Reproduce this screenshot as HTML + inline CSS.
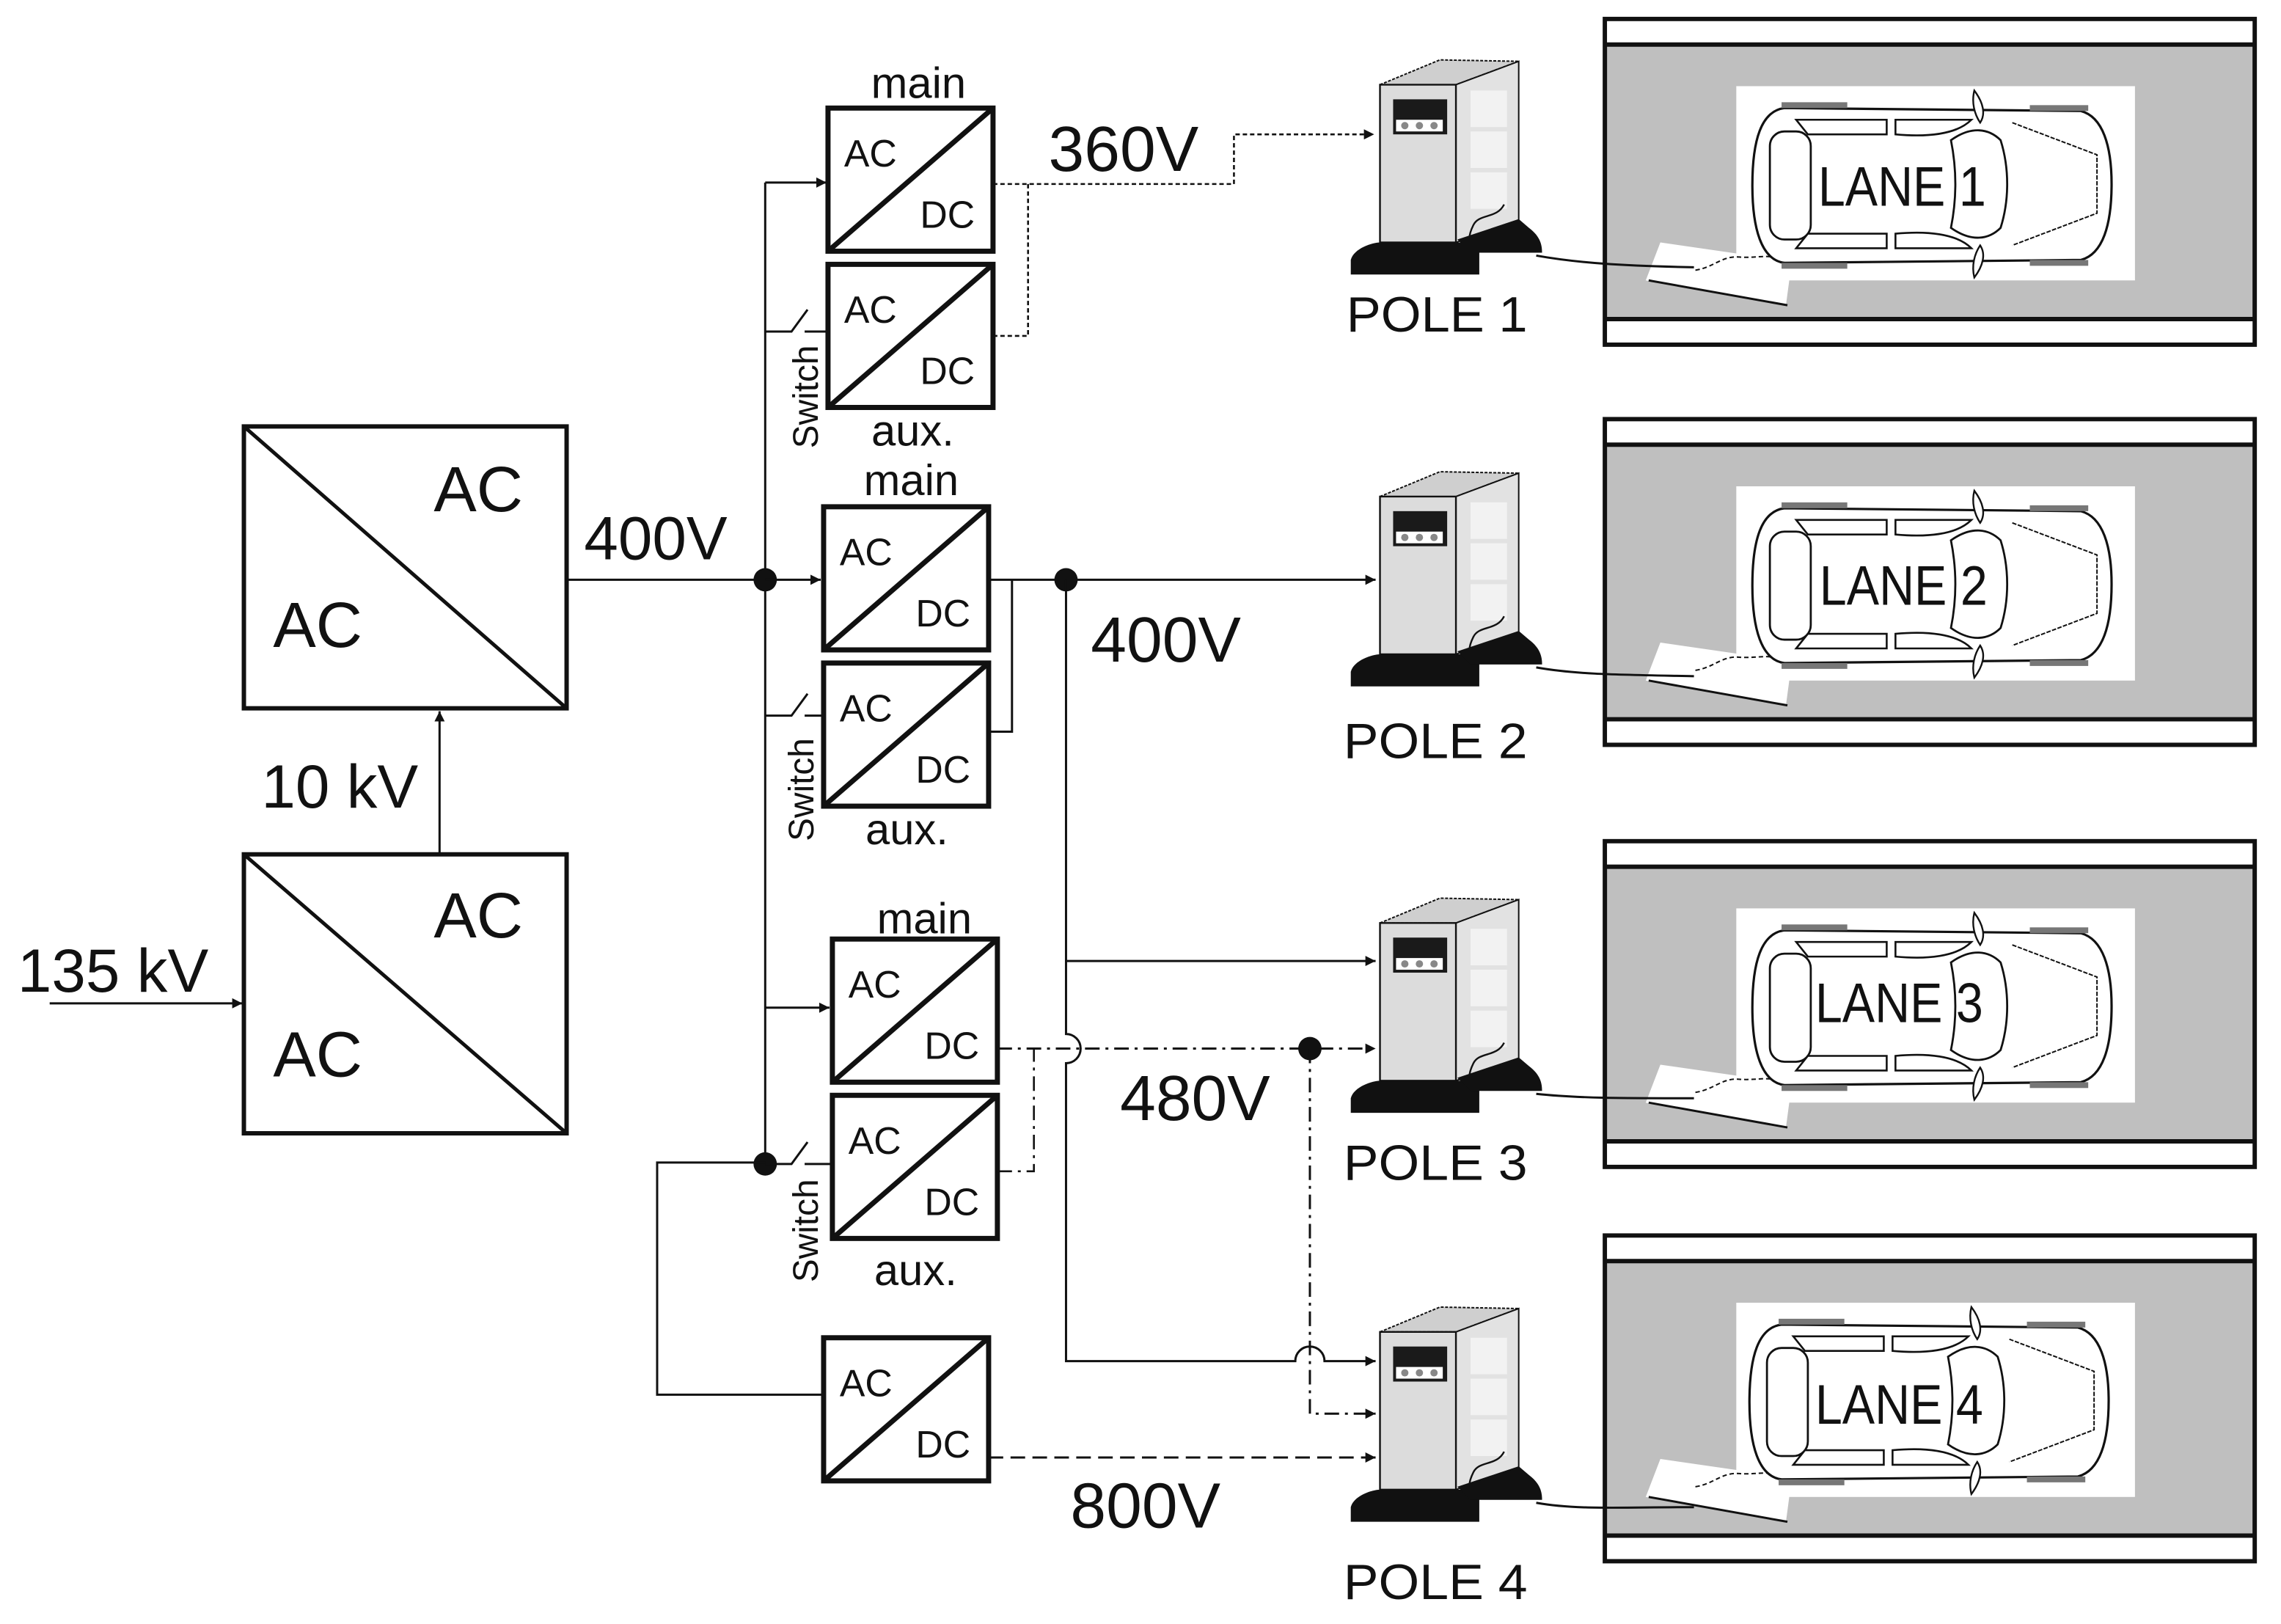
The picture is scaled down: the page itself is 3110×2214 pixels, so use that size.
<!DOCTYPE html>
<html><head><meta charset="utf-8"><style>
html,body{margin:0;padding:0;background:#fff;}
svg{display:block;}
text{font-family:"Liberation Sans",sans-serif;fill:#111;}
</style></head><body>
<svg width="3110" height="2214" viewBox="0 0 1562 1112" xmlns="http://www.w3.org/2000/svg">
<defs>
<marker id="ar" viewBox="0 0 10 10" refX="10" refY="5" markerWidth="9" markerHeight="7" markerUnits="userSpaceOnUse" orient="auto"><path d="M0,0 L10,5 L0,10 z" fill="#111"/></marker>
<g id="conv">
<rect x="0" y="0" width="113" height="98" fill="#fff" stroke="#111" stroke-width="3.5"/>
<line x1="0" y1="98" x2="113" y2="0" stroke="#111" stroke-width="3.5"/>
<text x="11" y="40" font-size="26">AC</text>
<text x="63" y="82" font-size="26">DC</text>
</g>
<g id="pole">
<polygon points="0,0 41,-17 95,-16 52,0" fill="#cfcfcf" stroke="#111" stroke-width="1" stroke-dasharray="2,1"/>
<polygon points="52,0 95,-16 95,93 52,108" fill="#e2e2e2" stroke="#111" stroke-width="1"/>
<rect x="0" y="0" width="52" height="108" fill="#dcdcdc" stroke="#111" stroke-width="1.2"/>
<rect x="9" y="10" width="37" height="24" fill="#1a1a1a"/>
<rect x="11" y="24" width="32" height="8" fill="#fff"/>
<circle cx="17" cy="28" r="2.5" fill="#888"/><circle cx="27" cy="28" r="2.5" fill="#888"/><circle cx="37" cy="28" r="2.5" fill="#888"/>
<rect x="62" y="4" width="25" height="25" fill="#f2f2f2"/>
<rect x="62" y="32" width="25" height="25" fill="#f2f2f2"/>
<rect x="62" y="60" width="25" height="25" fill="#f2f2f2"/>
<path d="M85,82 C80,92 68,88 64,96 C60,104 60,110 66,112" fill="none" stroke="#111" stroke-width="1.2"/>
<path d="M-20,130 L-20,120 C-18,112 -5,108 0,108 L68,108 L68,130 Z" fill="#111"/>
<path d="M53,106 L95,92 L102,98 C110,104 111,110 111,115 L62,115 Z" fill="#111"/>
</g>
<g id="car">
<path d="M22,4 L225,6 C240,10 246,30 246,56 C246,84 240,104 225,108 L22,110 C6,108 0,86 0,57 C0,26 6,6 22,4 Z" fill="#fff" stroke="#111" stroke-width="1.6"/>
<rect x="20" y="0" width="45" height="4" fill="#777"/><rect x="20" y="110" width="45" height="4" fill="#777"/>
<rect x="190" y="2" width="40" height="4" fill="#777"/><rect x="190" y="108" width="40" height="4" fill="#777"/>
<rect x="12" y="20" width="28" height="74" rx="10" fill="#fff" stroke="#111" stroke-width="1.4"/>
<path d="M30,12 L92,12 L92,22 L38,22 Z" fill="#fff" stroke="#111" stroke-width="1.3"/>
<path d="M30,100 L92,100 L92,90 L38,90 Z" fill="#fff" stroke="#111" stroke-width="1.3"/>
<path d="M98,12 L150,12 C140,22 120,24 98,22 Z" fill="#fff" stroke="#111" stroke-width="1.3"/>
<path d="M98,100 L150,100 C140,90 120,88 98,90 Z" fill="#fff" stroke="#111" stroke-width="1.3"/>
<path d="M136,26 C150,16 162,18 170,26 C176,45 176,67 170,86 C162,94 150,96 136,86 C140,66 140,46 136,26 Z" fill="#fff" stroke="#111" stroke-width="1.4"/>
<path d="M178,14 L236,36 L236,76 L178,98" fill="none" stroke="#111" stroke-width="1" stroke-dasharray="3,1"/>
<path d="M152,-8 C158,0 160,8 156,14 C152,8 150,0 152,-8 Z" fill="#fff" stroke="#111" stroke-width="1.2"/>
<path d="M152,120 C158,112 160,104 156,98 C152,104 150,112 152,120 Z" fill="#fff" stroke="#111" stroke-width="1.2"/>
</g>
<g id="lane">
<rect x="0" y="0" width="445" height="223" fill="#bfbfbf" stroke="#111" stroke-width="3"/>
<rect x="1.5" y="1.5" width="442" height="16" fill="#fff"/>
<line x1="0" y1="17.5" x2="445" y2="17.5" stroke="#111" stroke-width="3"/>
<rect x="1.5" y="206" width="442" height="15.5" fill="#fff"/>
<line x1="0" y1="205.5" x2="445" y2="205.5" stroke="#111" stroke-width="3"/>
<rect x="90" y="46" width="273" height="133" fill="#fff"/>
<polygon points="38,153 128,166 124,196 28,179" fill="#fff"/>
<line x1="30" y1="179" x2="125" y2="196" stroke="#111" stroke-width="1.5"/>
<path d="M62,172 C75,170 80,162 92,163 C105,164 115,160 120,166" fill="none" stroke="#111" stroke-width="1" stroke-dasharray="3,2"/>
</g>
</defs>

<!-- big AC/AC boxes -->
<rect x="167" y="292" width="221" height="193" fill="#fff" stroke="#111" stroke-width="3"/>
<line x1="167" y1="292" x2="388" y2="485" stroke="#111" stroke-width="2.5"/>
<text x="297" y="350" font-size="44">AC</text>
<text x="187" y="443" font-size="44">AC</text>
<rect x="167" y="585" width="221" height="191" fill="#fff" stroke="#111" stroke-width="3"/>
<line x1="167" y1="585" x2="388" y2="776" stroke="#111" stroke-width="2.5"/>
<text x="297" y="642" font-size="44">AC</text>
<text x="187" y="737" font-size="44">AC</text>
<line x1="301" y1="585" x2="301" y2="487" stroke="#111" stroke-width="1.5" marker-end="url(#ar)"/>
<text x="179" y="553" font-size="42">10 kV</text>
<line x1="34" y1="687" x2="166" y2="687" stroke="#111" stroke-width="1.5" marker-end="url(#ar)"/>
<text x="12" y="679" font-size="42">135 kV</text>
<line x1="388" y1="397" x2="524" y2="397" stroke="#111" stroke-width="1.5"/>
<text x="400" y="383" font-size="42">400V</text>

<!-- bus -->
<line x1="524" y1="125" x2="524" y2="797" stroke="#111" stroke-width="1.5"/>
<circle cx="524" cy="397" r="8" fill="#111"/>
<circle cx="524" cy="797" r="8" fill="#111"/>
<line x1="524" y1="125" x2="566" y2="125" stroke="#111" stroke-width="1.5" marker-end="url(#ar)"/>
<line x1="524" y1="397" x2="562" y2="397" stroke="#111" stroke-width="1.5" marker-end="url(#ar)"/>
<line x1="524" y1="690" x2="568" y2="690" stroke="#111" stroke-width="1.5" marker-end="url(#ar)"/>
<!-- switches -->
<path d="M524,227 L542,227 L553,212 M551,227 L567,227" fill="none" stroke="#111" stroke-width="1.5"/>
<path d="M524,490 L542,490 L553,475 M551,490 L565,490" fill="none" stroke="#111" stroke-width="1.5"/>
<path d="M524,797 L542,797 L553,782 M551,797 L570,797" fill="none" stroke="#111" stroke-width="1.5"/>
<text transform="translate(560,307) rotate(-90)" font-size="24">Switch</text>
<text transform="translate(557,576) rotate(-90)" font-size="24">Switch</text>
<text transform="translate(560,878) rotate(-90)" font-size="24">Switch</text>
<path d="M524,796 L450,796 L450,955 L565,955" fill="none" stroke="#111" stroke-width="1.5"/>

<!-- converters -->
<use href="#conv" x="567" y="74"/>
<use href="#conv" x="567" y="181"/>
<use href="#conv" x="564" y="347"/>
<use href="#conv" x="564" y="454"/>
<use href="#conv" x="570" y="643"/>
<use href="#conv" x="570" y="750"/>
<use href="#conv" x="564" y="916"/>
<text x="629" y="67" font-size="30" text-anchor="middle">main</text>
<text x="625" y="305" font-size="30" text-anchor="middle">aux.</text>
<text x="624" y="339" font-size="30" text-anchor="middle">main</text>
<text x="621" y="578" font-size="30" text-anchor="middle">aux.</text>
<text x="633" y="639" font-size="30" text-anchor="middle">main</text>
<text x="627" y="880" font-size="30" text-anchor="middle">aux.</text>

<!-- 360V -->
<path d="M680,126 L845,126 L845,92 L941,92" fill="none" stroke="#111" stroke-width="1.3" stroke-dasharray="3,2" marker-end="url(#ar)"/>
<path d="M680,230 L704,230 L704,126" fill="none" stroke="#111" stroke-width="1.3" stroke-dasharray="3,2"/>
<text x="718" y="117" font-size="44">360V</text>

<!-- 400V -->
<line x1="677" y1="397" x2="942" y2="397" stroke="#111" stroke-width="1.5" marker-end="url(#ar)"/>
<path d="M677,501 L693,501 L693,397" fill="none" stroke="#111" stroke-width="1.5"/>
<circle cx="730" cy="397" r="8" fill="#111"/>
<path d="M730,397 L730,708 A10,10 0 0 1 730,728 L730,932 L887,932 A10,10 0 0 1 907,932 L942,932" fill="none" stroke="#111" stroke-width="1.5" marker-end="url(#ar)"/>
<line x1="730" y1="658" x2="942" y2="658" stroke="#111" stroke-width="1.5" marker-end="url(#ar)"/>
<text x="747" y="453" font-size="44">400V</text>

<!-- 480V -->
<line x1="683" y1="718" x2="942" y2="718" stroke="#111" stroke-width="1.5" stroke-dasharray="10,4,2,4" marker-end="url(#ar)"/>
<path d="M683,802 L708,802 L708,718" fill="none" stroke="#111" stroke-width="1.3" stroke-dasharray="10,4,2,4"/>
<circle cx="897" cy="718" r="8" fill="#111"/>
<path d="M897,718 L897,968 L942,968" fill="none" stroke="#111" stroke-width="1.5" stroke-dasharray="10,4,2,4" marker-end="url(#ar)"/>
<text x="767" y="767" font-size="44">480V</text>

<!-- 800V -->
<line x1="677" y1="998" x2="942" y2="998" stroke="#111" stroke-width="1.5" stroke-dasharray="10,5" marker-end="url(#ar)"/>
<text x="733" y="1046" font-size="44">800V</text>

<!-- lanes -->
<use href="#lane" x="1099" y="13"/>
<use href="#lane" x="1099" y="287"/>
<use href="#lane" x="1099" y="576"/>
<use href="#lane" x="1099" y="846"/>
<use href="#car" x="1200" y="70"/>
<use href="#car" x="1200" y="344"/>
<use href="#car" x="1200" y="633"/>
<use href="#car" x="1198" y="903"/>
<text x="1245" y="141" font-size="38" textLength="115" lengthAdjust="spacingAndGlyphs">LANE 1</text>
<text x="1246" y="414" font-size="38" textLength="115" lengthAdjust="spacingAndGlyphs">LANE 2</text>
<text x="1243" y="700" font-size="38" textLength="115" lengthAdjust="spacingAndGlyphs">LANE 3</text>
<text x="1243" y="975" font-size="38" textLength="115" lengthAdjust="spacingAndGlyphs">LANE 4</text>

<!-- poles -->
<use href="#pole" x="945" y="58"/>
<use href="#pole" x="945" y="340"/>
<use href="#pole" x="945" y="632"/>
<use href="#pole" x="945" y="912"/>
<path d="M1052,175 C1080,180 1110,182 1160,183" fill="none" stroke="#111" stroke-width="1.5"/>
<path d="M1052,457 C1080,462 1110,462 1160,463" fill="none" stroke="#111" stroke-width="1.5"/>
<path d="M1052,749 C1080,752 1110,752 1160,752" fill="none" stroke="#111" stroke-width="1.5"/>
<path d="M1052,1029 C1080,1034 1110,1032 1160,1032" fill="none" stroke="#111" stroke-width="1.5"/>
<text x="922" y="227" font-size="34" textLength="124" lengthAdjust="spacingAndGlyphs">POLE 1</text>
<text x="920" y="519" font-size="34" textLength="126" lengthAdjust="spacingAndGlyphs">POLE 2</text>
<text x="920" y="808" font-size="34" textLength="126" lengthAdjust="spacingAndGlyphs">POLE 3</text>
<text x="920" y="1095" font-size="34" textLength="126" lengthAdjust="spacingAndGlyphs">POLE 4</text>
</svg>
</body></html>
